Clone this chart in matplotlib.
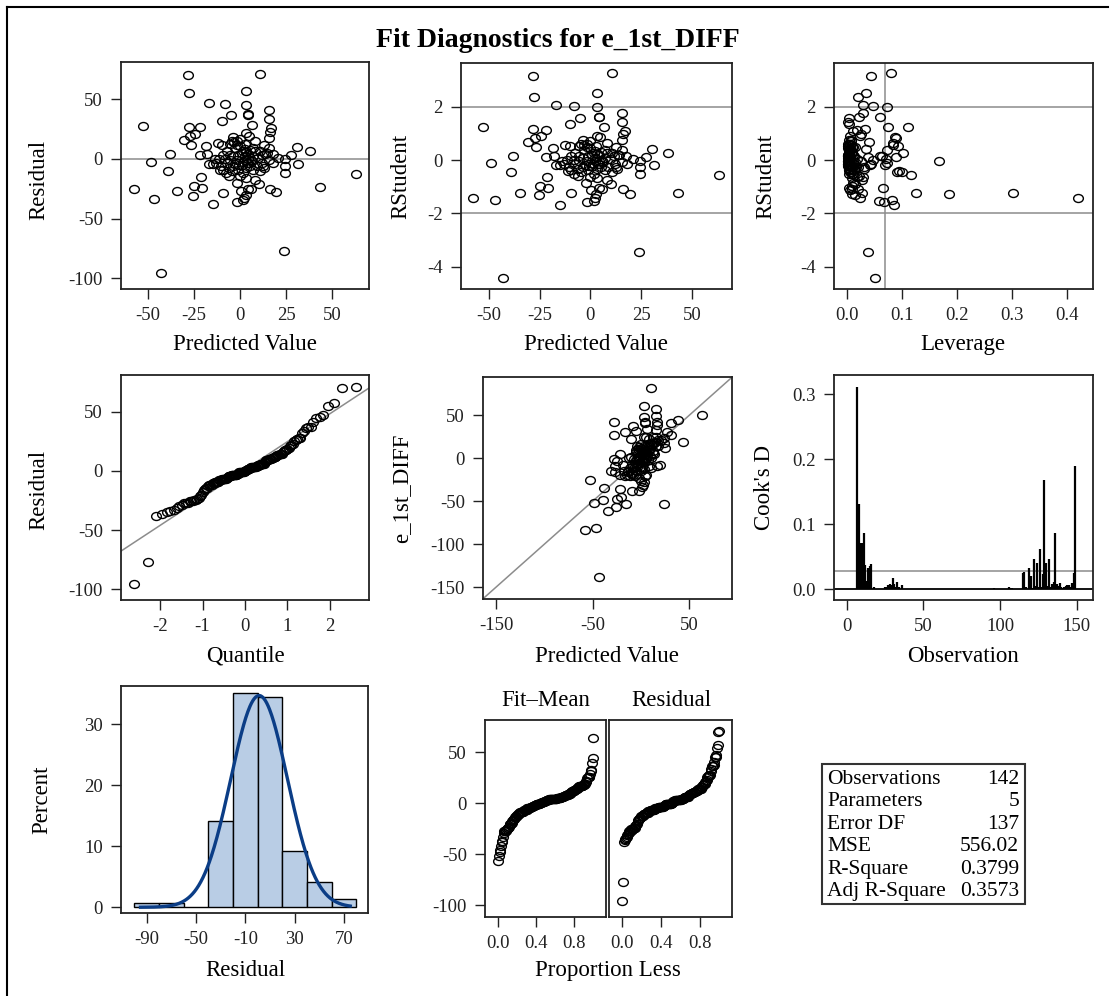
import numpy as np
import matplotlib
matplotlib.use("Agg")
import matplotlib.pyplot as plt
from matplotlib.lines import Line2D
from matplotlib.patches import Rectangle
from matplotlib.path import Path
from statistics import NormalDist

plt.rcParams['font.family'] = ['Liberation Serif', 'DejaVu Serif']
plt.rcParams['axes.unicode_minus'] = False

# Data (142 observations)
pred = [-28.3, 10.5, -27.9, 3.4, -17.0, -8.2, 3.4, 4.2, 4.5, -4.9,
        -10.0, 15.8, 15.4, 17.0, 16.3, 15.4, 6.5, -52.9, -28.0, -21.6,
        -24.5, -27.2, -30.8, -26.8, 3.4, 4.9, -3.8, -0.2, 8.3, -12.3,
        -10.1, -5.6, -3.3, -1.6, 2.7, 12.7, 30.6, 38.2, -38.2, -48.7,
        -39.1, -58.0, -46.9, -34.6, -25.0, -25.4, -21.2, -20.7, -21.9, -18.5,
        -17.9, -16.7, -14.7, -15.0, -9.6, -11.4, -10.3, -9.6, -7.8, -6.3,
        -4.7, -2.7, -2.0, -1.8, 0.4, 1.6, 2.2, 2.9, 4.3, 5.6,
        8.3, 10.0, 10.9, 12.5, 13.6, 14.3, 15.8, 17.6, 17.9, 16.1,
        19.7, 20.8, 24.3, 24.3, 24.5, 27.4, 31.3, 23.9, 43.1, 63.2,
        -42.9, 12.1, 7.1, 4.3, 1.6, -1.1, -3.8, -5.6, -7.4, 2.5,
        4.3, 6.2, 0.7, 3.4, -1.1, -3.8, 7.1, 8.9, 5.3, -2.9,
        -7.4, -9.6, -13.8, -12.9, 7.1, 1.6, -0.2, 3.4, 8.2, 9.8,
        11.6, -0.2, 2.5, -4.7, -1.8, 0.7, 4.3, 5.3, 5.6, -1.6,
        -5.6, -8.2, -11.1, -6.2, -0.5, 2.5, 3.4, 15.8, 13.0, 10.7,
        3.8, 1.3]
resid = [70.4, 71.0, 54.7, 57.0, 47.0, 45.8, 45.0, 36.9, 37.4, 36.6,
         32.0, 41.0, 33.5, 25.4, 22.6, 17.6, 28.0, 27.4, 27.0, 26.5,
         21.0, 18.7, 15.6, 11.2, 21.5, 19.3, 17.9, 16.5, 14.5, 13.1,
         11.5, 12.3, 13.7, 11.2, 12.0, 11.7, 10.0, 6.1, 3.6, -2.8,
         -10.0, -25.4, -34.0, -27.1, -22.6, -31.0, -15.0, -24.3, 2.8, 10.3,
         3.6, -4.2, -4.7, -38.0, -28.8, -0.3, -6.4, -9.2, -12.0, -14.2,
         -10.6, -4.2, -20.5, -36.0, -26.8, -34.9, -33.0, -30.0, -24.9, -25.4,
         -17.6, -21.5, -10.3, -6.4, 4.2, 4.7, 8.9, 3.6, -3.6, -25.4,
         -27.4, 0.6, -0.6, -6.4, -12.0, 2.8, -4.5, -76.8, -24.0, -12.6,
         -95.3, -3.6, 8.9, 4.2, 6.1, 3.4, 2.0, -0.8, -3.6, -0.8,
         -3.6, -2.2, -5.0, -7.8, -9.2, -6.4, -9.2, -6.4, 7.5, 8.9,
         6.1, 3.4, -0.6, -3.6, 2.0, -12.0, -14.8, -16.2, 6.1, 0.6,
         3.4, 10.3, 8.1, 14.5, 14.5, 4.7, -0.5, -6.4, -0.8, -0.8,
         3.4, -0.3, -9.2, -7.8, -5.6, 2.0, 5.3, -1.4, -7.8, 6.1,
         -3.6, -3.1]
leverage = [0.045, 0.080, 0.020, 0.036, 0.030, 0.048, 0.074, 0.060, 0.022, 0.005,
            0.005, 0.030, 0.003, 0.012, 0.026, 0.008, 0.075, 0.111, 0.033, 0.018,
            0.025, 0.090, 0.040, 0.010, 0.006, 0.088, 0.004, 0.008, 0.085, 0.084,
            0.094, 0.003, 0.007, 0.012, 0.002, 0.015, 0.035, 0.103, 0.060, 0.074,
            0.092, 0.420, 0.082, 0.127, 0.010, 0.015, 0.030, 0.067, 0.090, 0.006,
            0.013, 0.070, 0.008, 0.086, 0.028, 0.048, 0.011, 0.004, 0.009, 0.022,
            0.006, 0.003, 0.012, 0.068, 0.007, 0.058, 0.025, 0.010, 0.005, 0.020,
            0.028, 0.016, 0.100, 0.009, 0.004, 0.011, 0.073, 0.002, 0.014, 0.009,
            0.187, 0.019, 0.026, 0.032, 0.004, 0.038, 0.042, 0.038, 0.303, 0.117,
            0.052, 0.003, 0.006, 0.002, 0.004, 0.003, 0.005, 0.168, 0.007, 0.002,
            0.004, 0.003, 0.005, 0.006, 0.004, 0.008, 0.013, 0.017, 0.010, 0.005,
            0.009, 0.003, 0.011, 0.044, 0.006, 0.012, 0.018, 0.009, 0.005, 0.072,
            0.007, 0.002, 0.004, 0.006, 0.003, 0.002, 0.003, 0.021, 0.003, 0.004,
            0.065, 0.006, 0.096, 0.005, 0.002, 0.003, 0.004, 0.016, 0.031, 0.008,
            0.002, 0.003]

# Cook's D by observation number (7..149, obs 60 not in the fit)
obs_no = list(range(7, 60)) + list(range(61, 150))
cooks_d = [0.311, 0.131, 0.072, 0.072, 0.087, 0.038, 0.013, 0.033, 0.036, 0.039,
           0.001, 0.003, 0.000, 0.000, 0.000, 0.000, 0.000, 0.001, 0.003, 0.004,
           0.006, 0.008, 0.007, 0.018, 0.008, 0.003, 0.012, 0.003, 0.001, 0.006,
           0.001, 0.000, 0.000, 0.001, 0.000, 0.000, 0.000, 0.001, 0.000, 0.000,
           0.000, 0.000, 0.000, 0.000, 0.000, 0.000, 0.000, 0.000, 0.000, 0.000,
           0.000, 0.000, 0.000, 0.000, 0.000, 0.000, 0.000, 0.000, 0.000, 0.000,
           0.000, 0.000, 0.000, 0.000, 0.000, 0.000, 0.000, 0.000, 0.000, 0.000,
           0.000, 0.000, 0.000, 0.000, 0.000, 0.000, 0.000, 0.000, 0.000, 0.000,
           0.000, 0.000, 0.000, 0.000, 0.000, 0.000, 0.000, 0.000, 0.002, 0.000,
           0.000, 0.000, 0.000, 0.000, 0.000, 0.000, 0.000, 0.000, 0.003, 0.002,
           0.002, 0.000, 0.000, 0.000, 0.000, 0.000, 0.000, 0.025, 0.027, 0.003,
           0.001, 0.033, 0.020, 0.002, 0.046, 0.005, 0.040, 0.003, 0.062, 0.004,
           0.023, 0.168, 0.040, 0.005, 0.046, 0.003, 0.008, 0.012, 0.087, 0.008,
           0.005, 0.010, 0.004, 0.002, 0.003, 0.005, 0.006, 0.007, 0.003, 0.010,
           0.025, 0.190]

stat_names = ["Observations", "Parameters", "Error DF", "MSE", "R-Square", "Adj R-Square"]
stat_values = ["142", "5", "137", "556.02", "0.3799", "0.3573"]

pred = np.array(pred)
resid = np.array(resid)
leverage = np.array(leverage)
n = len(resid)
p = 5
mse = 556.02
s = np.sqrt(mse)

# studentized residuals
r_int = resid / (s * np.sqrt(1 - leverage))
rstudent = r_int * np.sqrt((n - p - 1) / (n - p - r_int ** 2))
observed = pred + resid

W, H = 1113, 996
fig = plt.figure(figsize=(W / 100, H / 100), dpi=100)

TICK = 13.5
LAB = 16.5

# the source image is a little stretched sideways, so the circles are slightly wide
ell = Path.unit_circle()
ell = Path(ell.vertices * np.array([1.0, 0.82]), ell.codes)


def add_ax(l, t, r, b):
    ax = fig.add_axes([l / W, 1 - b / H, (r - l) / W, (b - t) / H])
    for sp in ax.spines.values():
        sp.set_linewidth(1.3)
        sp.set_color("#222222")
    ax.tick_params(direction="out", length=7, width=1, labelsize=TICK, pad=6, colors="#222222")
    return ax


def label_x(txt, x, y):
    fig.text(x / W, 1 - y / H, txt, ha="center", va="center", fontsize=LAB)


def label_y(txt, x, y):
    fig.text(x / W, 1 - y / H, txt, ha="center", va="center", fontsize=LAB, rotation=90)


def circles(ax, x, y):
    ax.plot(x, y, linestyle="none", marker=ell, mfc="none", mec="black", ms=7, mew=1.0, zorder=3)


ref = dict(color="#8c8c8c", lw=1.1, zorder=1)

fig.text(558 / W, 1 - 40 / H, "Fit Diagnostics for e_1st_DIFF", ha="center", va="center",
         fontsize=20, fontweight="bold")

# Residual vs predicted
ax1 = add_ax(121, 62, 369, 289)
circles(ax1, pred, resid)
ax1.axhline(0, **ref)
ax1.set_xlim(-64.8, 70)
ax1.set_ylim(-109, 81)
ax1.set_xticks([-50, -25, 0, 25, 50])
ax1.set_yticks([-100, -50, 0, 50])
label_x("Predicted Value", 245, 344)
label_y("Residual", 39, 180)

# RStudent vs predicted
ax2 = add_ax(461, 63, 732, 289)
circles(ax2, pred, rstudent)
ax2.axhline(2, **ref)
ax2.axhline(-2, **ref)
ax2.set_xlim(-63.7, 69.8)
ax2.set_ylim(-4.84, 3.64)
ax2.set_xticks([-50, -25, 0, 25, 50])
ax2.set_yticks([-4, -2, 0, 2])
label_x("Predicted Value", 596, 344)
label_y("RStudent", 401, 176)

# RStudent vs leverage
ax3 = add_ax(834, 63, 1093, 289)
circles(ax3, leverage, rstudent)
ax3.axhline(2, **ref)
ax3.axhline(-2, **ref)
ax3.axvline(2 * p / n, **ref)
ax3.set_xlim(-0.023, 0.448)
ax3.set_ylim(-4.84, 3.64)
ax3.set_xticks([0.0, 0.1, 0.2, 0.3, 0.4])
ax3.set_xticklabels(["0.0", "0.1", "0.2", "0.3", "0.4"])
ax3.set_yticks([-4, -2, 0, 2])
label_x("Leverage", 963, 344)
label_y("RStudent", 766, 176)

# Q-Q plot of residuals
ax4 = add_ax(121, 375, 369, 600)
nd = NormalDist()
quant = np.array([nd.inv_cdf((i + 1 - 0.375) / (n + 0.25)) for i in range(n)])
circles(ax4, quant, np.sort(resid))
qx = np.array([-3, 3])
ax4.plot(qx, resid.mean() + s * qx, **ref)
ax4.set_xlim(-2.92, 2.92)
ax4.set_ylim(-109, 81)
ax4.set_xticks([-2, -1, 0, 1, 2])
ax4.set_yticks([-100, -50, 0, 50])
label_x("Quantile", 245, 656)
label_y("Residual", 39, 490)

# Observed vs predicted
ax5 = add_ax(483, 377, 732, 599)
circles(ax5, pred, observed)
ax5.plot([-170, 100], [-170, 100], **ref)
ax5.set_xlim(-163.4, 94.2)
ax5.set_ylim(-163.7, 94.5)
ax5.set_xticks([-150, -50, 50])
ax5.set_yticks([-150, -100, -50, 0, 50])
label_x("Predicted Value", 607, 656)
label_y("e_1st_DIFF", 402, 488)

# Cook's D
ax6 = add_ax(834, 375, 1093, 600)
ax6.vlines(obs_no, 0, cooks_d, color="black", lw=1.6, zorder=2)
ax6.axhline(0, color="black", lw=1.3, zorder=2)
ax6.axhline(4 / n, **ref)
ax6.set_xlim(-8.3, 160.7)
ax6.set_ylim(-0.0164, 0.33)
ax6.set_xticks([0, 50, 100, 150])
ax6.set_yticks([0.0, 0.1, 0.2, 0.3])
ax6.set_yticklabels(["0.0", "0.1", "0.2", "0.3"])
label_x("Observation", 963, 656)
label_y("Cook's D", 765, 488)

# Histogram of residuals
ax7 = add_ax(121, 686, 368, 913)
edges = np.arange(-100, 81, 20)
counts, _ = np.histogram(resid, bins=edges)
pct = counts / n * 100
ax7.bar(edges[:-1] + 10, pct, width=20, color="#b9cde5", edgecolor="black", lw=1.0, zorder=2)
xs = np.linspace(-95, 75, 300)
mu, sd = resid.mean(), resid.std(ddof=1)
curve = [100 * 20 * NormalDist(mu, sd).pdf(v) for v in xs]
ax7.plot(xs, curve, color="#0b3d86", lw=2.4, zorder=3)
ax7.set_xlim(-110.8, 89.4)
ax7.set_ylim(-0.94, 36.3)
ax7.set_xticks([-90, -50, -10, 30, 70])
ax7.set_yticks([0, 10, 20, 30])
label_x("Residual", 245, 970)
label_y("Percent", 42, 800)

# Residual-fit spread plot
ax8a = add_ax(485, 720, 606, 917)
ax8b = add_ax(609, 720, 732, 917)
prop = (np.arange(n) + 0.5) / n
circles(ax8a, prop, np.sort(pred - pred.mean()))
circles(ax8b, prop, np.sort(resid))
for ax in (ax8a, ax8b):
    ax.set_ylim(-111.4, 81.7)
    ax.set_xlim(-0.135, 1.13)
    ax.set_xticks([0.0, 0.4, 0.8])
    ax.set_xticklabels(["0.0", "0.4", "0.8"])
    ax.set_yticks([-100, -50, 0, 50])
ax8b.tick_params(axis="y", left=False, labelleft=False)
fig.text(546 / W, 1 - 700 / H, "Fit\u2013Mean", ha="center", va="center", fontsize=LAB)
fig.text(671 / W, 1 - 700 / H, "Residual", ha="center", va="center", fontsize=LAB)
label_x("Proportion Less", 608, 970)

# Fit statistics box
fig.patches.append(Rectangle((822 / W, 1 - 904 / H), (1025 - 822) / W, (904 - 764) / H,
                             transform=fig.transFigure, fill=False, lw=1.5, ec="#333333"))
for i, (nm, val) in enumerate(zip(stat_names, stat_values)):
    y = 779.3 + i * 22.5
    fig.text(827 / W, 1 - y / H, nm, ha="left", va="center", fontsize=15.5)
    fig.text(1019 / W, 1 - y / H, val, ha="right", va="center", fontsize=15.5)

# outer frame (left and top edges)
fig.add_artist(Line2D([7 / W, 7 / W], [0, 1 - 7 / H], transform=fig.transFigure, color="black", lw=1.5))
fig.add_artist(Line2D([7 / W, 1108 / W], [1 - 7 / H, 1 - 7 / H], transform=fig.transFigure, color="black", lw=1.5))

fig.savefig("out.png", dpi=100)
